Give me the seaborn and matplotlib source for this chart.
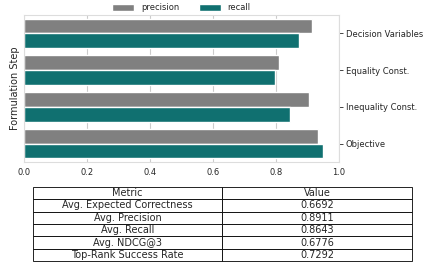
import matplotlib
matplotlib.use('Agg')

import matplotlib.pyplot as plt
import seaborn as sns
import pandas as pd

# per-step precision / recall
steps = ['Decision Variables', 'Equality Const.', 'Inequality Const.', 'Objective']
precision = [0.914, 0.810, 0.905, 0.933]
recall = [0.873, 0.797, 0.846, 0.950]

# summary table
metric_names = ['Avg. Expected Correctness', 'Avg. Precision', 'Avg. Recall',
                'Avg. NDCG@3', 'Top-Rank Success Rate']
metric_values = ['0.6692', '0.8911', '0.8643', '0.6776', '0.7292']

sns.set_style('whitegrid')

df = pd.DataFrame({
    'step': steps * 2,
    'value': precision + recall,
    'metric': ['precision'] * len(steps) + ['recall'] * len(steps),
})

fig = plt.figure(figsize=(4.23, 2.64), dpi=100)
ax = fig.add_axes([0.057, 0.386, 0.744, 0.557])

sns.barplot(data=df, x='value', y='step', hue='metric', orient='h',
            palette=['gray', 'teal'], ax=ax)

ax.set_xlim(0, 1.0)
ax.set_xlabel('')
ax.set_ylabel('Formulation Step', fontsize=7, labelpad=3)
ax.yaxis.tick_right()
ax.tick_params(axis='y', length=3, width=0.6, labelsize=6, pad=2)
ax.tick_params(axis='x', labelsize=6, length=0, pad=4)
for s in ax.spines.values():
    s.set_color('#dddddd')
ax.grid(axis='y', visible=False)

ax.legend(loc='lower center', bbox_to_anchor=(0.5, 0.99), ncol=2,
          frameon=False, fontsize=6, handlelength=2.6, handleheight=0.8,
          columnspacing=2.4, borderaxespad=0.1)

# table underneath
tax = fig.add_axes([0.078, 0.011, 0.896, 0.281])
tax.axis('off')
rows = [[n, v] for n, v in zip(metric_names, metric_values)]
tbl = tax.table(cellText=rows, colLabels=['Metric', 'Value'],
                cellLoc='center', loc='upper center', bbox=[0, 0, 1, 1])
tbl.auto_set_font_size(False)
tbl.set_fontsize(7)
for cell in tbl.get_celld().values():
    cell.set_linewidth(0.6)

fig.savefig('out.png', dpi=100)
